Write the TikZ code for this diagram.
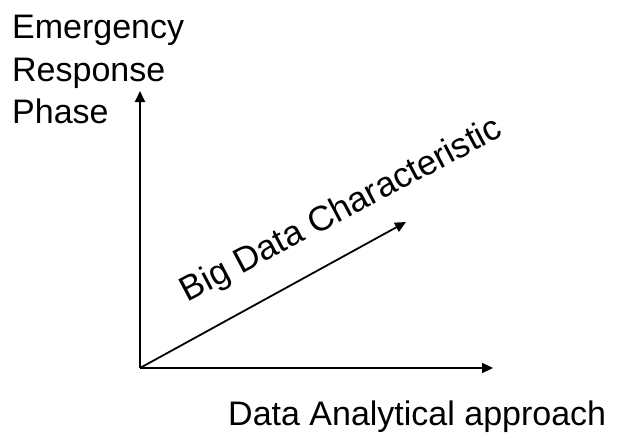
\documentclass[tikz,border=0pt]{standalone}
\usepackage{fontspec}
\setmainfont{Liberation Sans}
\usetikzlibrary{arrows.meta}
\tikzset{
  axis/.style={line width=1.8pt,-{Triangle[length=11pt,width=10pt]}},
  lbl/.style={inner sep=0pt,anchor=base west,font=\fontsize{34}{41}\selectfont},
}
\begin{document}
\begin{tikzpicture}[x=1pt,y=-1pt]
\useasboundingbox (0,0) rectangle (617,436);
\coordinate (O) at (140,368);
\coordinate (Ytip) at (140,91);
\coordinate (Xtip) at (493,368);
\coordinate (Dtip) at (406,222);
\draw[axis] (O) -- (Ytip);
\draw[axis] (O) -- (Xtip);
\draw[axis] (O) -- (Dtip);
\node[lbl] (l1) at (12,38) {Emergency};
\node[lbl] (l2) at (12,81) {Response};
\node[lbl] (l3) at (12,123) {Phase};
\node[lbl] (xl) at (228,425) {Data Analytical approach};
\node[lbl,anchor=base,rotate=27.8,font=\fontsize{35}{41}\selectfont] (dl) at (346,219) {Big Data Characteristic};
\end{tikzpicture}
\end{document}
